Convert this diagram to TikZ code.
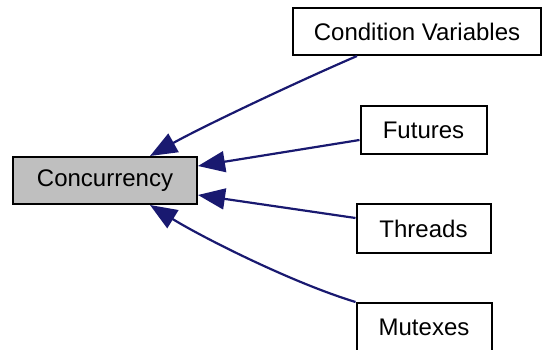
\documentclass[tikz,border=0pt]{standalone}
\usepackage{fontspec}
\setmainfont{Liberation Sans}
\usetikzlibrary{arrows.meta}
\definecolor{edgeblue}{RGB}{25,25,112}
\definecolor{groupgray}{RGB}{191,191,191}
\tikzset{
  box/.style={draw=black, line width=2pt, fill=white, inner sep=0pt,
    font=\fontsize{24}{26}\selectfont, text=black},
  link/.style={draw=edgeblue, line width=2.2pt,
    {Triangle[length=27pt,width=21pt]}-}
}
\begin{document}
\begin{tikzpicture}[x=1pt,y=-1pt]
  \useasboundingbox (0,0) rectangle (544,350);
  % group nodes
  \node[box, fill=groupgray, minimum width=184pt, minimum height=47pt] (conc) at (105,180.5) {Concurrency};
  \node[box, minimum width=248pt, minimum height=47pt] (cv) at (417,31.5) {Condition Variables};
  \node[box, minimum width=126pt, minimum height=48pt] (fut) at (423.5,130) {Futures};
  \node[box, minimum width=134pt, minimum height=48pt] (thr) at (423.5,228.5) {Threads};
  \node[box, minimum width=135pt, minimum height=48pt] (mut) at (424,327) {Mutexes};
  % membership edges
  \draw[link] ([xshift=45pt]conc.north) .. controls (200,128) and (290,85) .. ([xshift=-60pt]cv.south);
  \draw[link] ([yshift=14.5pt]conc.east) -- ([yshift=-10pt]fut.west);
  \draw[link] ([yshift=-14.5pt]conc.east) -- ([yshift=10.5pt]thr.west);
  \draw[link] ([xshift=45pt]conc.south) .. controls (200,236) and (290,282) .. (mut.north west);
\end{tikzpicture}
\end{document}
